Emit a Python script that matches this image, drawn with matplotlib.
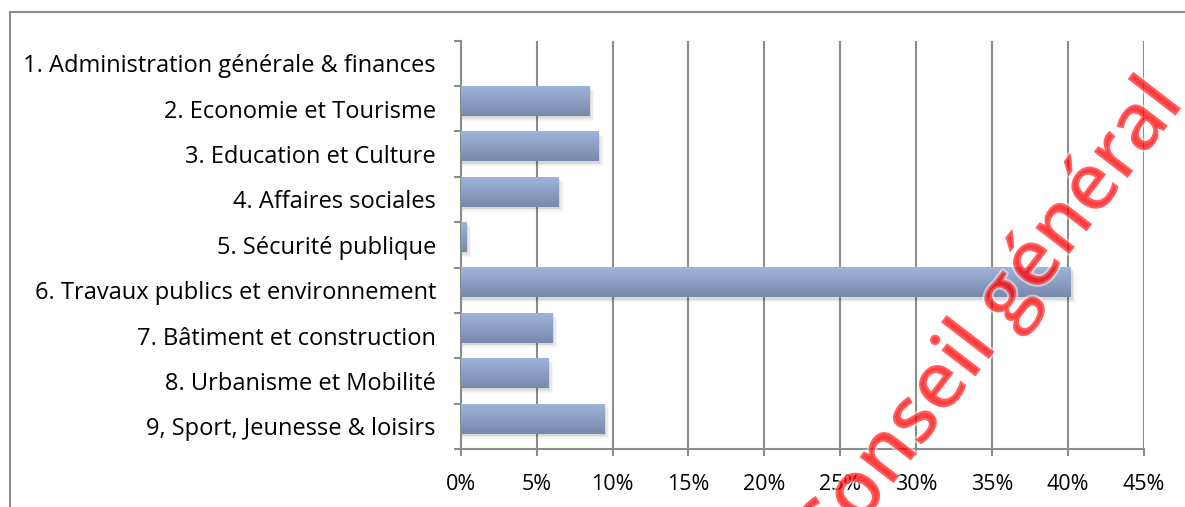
import numpy as np
import matplotlib.pyplot as plt
import matplotlib.patheffects as pe
from matplotlib.colors import LinearSegmentedColormap
import matplotlib.ticker as mtick

plt.rcParams['font.family'] = ['Open Sans', 'DejaVu Sans']

# data
categories = [
    '1. Administration générale & finances',
    '2. Economie et Tourisme',
    '3. Education et Culture',
    '4. Affaires sociales',
    '5. Sécurité publique',
    '6. Travaux publics et environnement',
    '7. Bâtiment et construction',
    '8. Urbanisme et Mobilité',
    '9, Sport, Jeunesse & loisirs',
]
shares = [0.0, 0.0844, 0.0904, 0.064, 0.0033, 0.402, 0.060, 0.0574, 0.0943]
x_ticks = [0, 0.05, 0.10, 0.15, 0.20, 0.25, 0.30, 0.35, 0.40, 0.45]

fig = plt.figure(figsize=(11.85, 5.07), dpi=100)
ax = fig.add_axes([0.389, 0.1144, 0.576, 0.8053])

grid_col = '#8c8c8c'
bar_h = 0.66
offset = -0.17  # bars sit at the top of their slot

grad = LinearSegmentedColormap.from_list('bar', ['#9fb3db', '#7889aa'])
g = np.linspace(0, 1, 64).reshape(-1, 1)

for i, v in enumerate(shares):
    if v <= 0:
        continue
    top = i + offset - bar_h / 2
    bot = i + offset + bar_h / 2
    # soft shadow
    for k, a in enumerate([0.07, 0.05, 0.03]):
        ax.barh(i + offset + 0.05 + 0.03 * k, v + 0.0012 * (k + 1), height=bar_h,
                color='#000000', alpha=a, linewidth=0, zorder=2)
    ax.imshow(g, extent=[0, v, bot, top], aspect='auto', cmap=grad,
              zorder=3, interpolation='bilinear')

ax.set_xlim(0, 0.45)
ax.set_ylim(len(categories) - 0.5, -0.5)
ax.set_aspect('auto')

ax.set_xticks(x_ticks)
ax.xaxis.set_major_formatter(mtick.PercentFormatter(1.0, decimals=0))
ax.set_yticks(range(len(categories)))
ax.set_yticklabels(categories)
ax.set_yticks(np.arange(-0.5, len(categories)), minor=True)

ax.tick_params(axis='y', which='major', length=0, pad=18, labelsize=17)
ax.tick_params(axis='y', which='minor', length=5, width=1.5, color=grid_col)
ax.tick_params(axis='x', length=5, width=1.5, color=grid_col, pad=13, labelsize=15.5)

ax.grid(axis='x', color=grid_col, linewidth=1.5, zorder=1)
ax.set_axisbelow(True)
for s in ['top', 'right']:
    ax.spines[s].set_visible(False)
for s in ['left', 'bottom']:
    ax.spines[s].set_color(grid_col)
    ax.spines[s].set_linewidth(1.5)

# outer frame of the chart area
fig.add_artist(plt.Line2D([10 / 1185, 10 / 1185], [0, 1 - 12 / 507], color='#8c8c8c', lw=1.5))
fig.add_artist(plt.Line2D([10 / 1185, 1], [1 - 12 / 507, 1 - 12 / 507], color='#8c8c8c', lw=1.5))

# watermark
fig.text(0.836, 0.365, 'Conseil général', rotation=52.5, ha='center', va='center',
         rotation_mode='anchor', fontsize=57, fontweight='semibold',
         color='#ff0000', alpha=0.5,
         path_effects=[pe.withStroke(linewidth=3, foreground='white')], zorder=10)

fig.savefig('out.png', dpi=100)
